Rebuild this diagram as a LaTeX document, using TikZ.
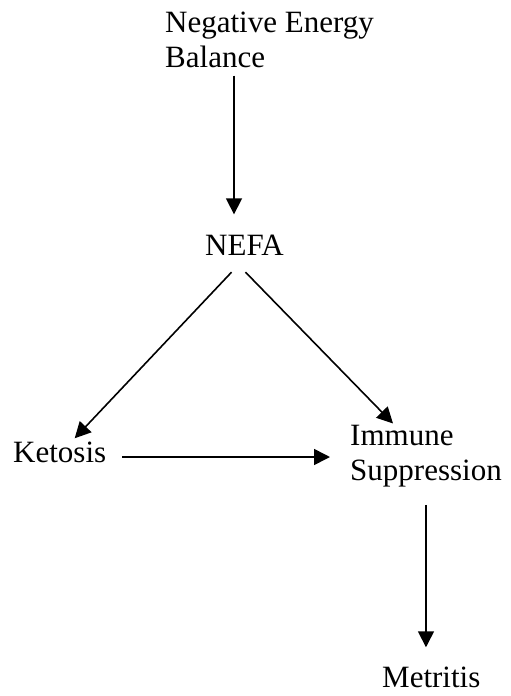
\documentclass[tikz,border=0pt]{standalone}
\usepackage{fontspec}
\setmainfont{Liberation Serif}
\usetikzlibrary{arrows.meta}

\begin{document}
\begin{tikzpicture}[x=1pt,y=-1pt]
\tikzstyle{term}=[inner sep=0pt,anchor=base west,align=left,font=\fontsize{31}{35}\selectfont]
\tikzstyle{arr}=[line width=1.6pt,-{Triangle[length=16pt,width=16pt]}]
\useasboundingbox (0,0) rectangle (511,696);
% base is the last line
\path (165,67) node[term](neb){Negative Energy\\Balance}
      (205,255) node[term](nefa){NEFA}
      (13,462) node[term](ket){Ketosis}
      (350,480) node[term](imm){Immune\\Suppression}
      (382,687) node[term](met){Metritis};
\draw[arr] ([xshift=69pt,yshift=-8pt]neb.south west) -- ([xshift=29pt,yshift=20pt]nefa.north west);
\draw[arr] ([xshift=-13pt,yshift=-17pt]nefa.south) -- ([xshift=15pt,yshift=3pt]ket.north);
\draw[arr] ([xshift=1pt,yshift=-17pt]nefa.south) -- ([xshift=43pt,yshift=1pt]imm.north west);
\draw[arr] ([xshift=16pt,yshift=5pt]ket.base east) -- ([xshift=-20pt,yshift=5pt]ket.base east -| imm.west);
\draw[arr] ([yshift=-18pt]imm.south) -- ([yshift=19pt]imm.south |- met.north);
\end{tikzpicture}
\end{document}
